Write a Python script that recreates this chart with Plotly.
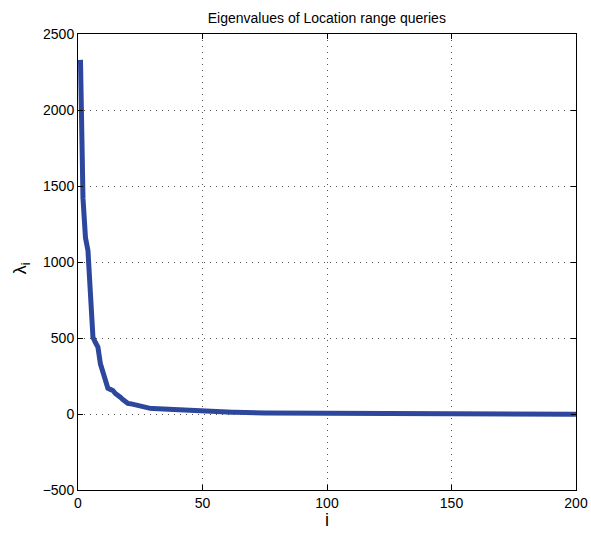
import plotly.graph_objects as go

# Eigenvalue index
idx = list(range(1, 201))

# Estimated eigenvalues lambda_i
lam_head = [2330, 1420, 1160, 1075, 790, 505, 470, 440, 330, 270,
            215, 170, 162, 155, 135, 125, 110, 95, 80, 70,
            68, 64, 56, 50, 46, 43, 41, 39, 37, 36,
            35, 34, 33, 32, 30, 29, 28, 27, 26, 25]
lam_mid = [24, 23, 22, 21, 20, 19, 18, 18, 17, 16,
           16, 15, 15, 14, 14, 13, 13, 12, 12, 12,
           11, 11, 11, 10, 10, 10, 9, 9, 9, 9,
           8, 8, 8, 8, 7, 7, 7, 7, 7, 6,
           6, 6, 6, 6, 5, 5, 5, 5, 5, 5,
           4, 4, 4, 4, 4, 4, 4, 3, 3, 3]
lam_tail = [3, 3, 3, 3, 3, 3, 2, 2, 2, 2,
            2, 2, 2, 2, 2, 2, 1, 1, 1, 1,
            1, 1, 1, 1, 1, 1, 1, 1, 1, 1,
            1, 1, 1, 1, 1, 1, 1, 1, 1, 1,
            1, 1, 1, 1, 1, 2, 2, 2, 2, 2,
            2, 2, 2, 2, 2, 2, 2, 2, 2, 2,
            2, 2, 2, 2, 2, 2, 2, 2, 2, 2,
            2, 2, 2, 2, 2, 2, 2, 2, 2, 2,
            2, 2, 1, 1, 1, 1, 1, 1, 1, 1,
            1, 1, 1, 0, 0, 0, 0, 0, -1, -2]
lam = lam_head + lam_mid + lam_tail

x_ticks = [0, 50, 100, 150, 200]
y_ticks = [-500, 0, 500, 1000, 1500, 2000, 2500]

FONT = "Liberation Sans, Arial, sans-serif"

fig = go.Figure()
fig.add_trace(go.Scatter(
    x=idx, y=lam, mode="lines",
    line=dict(color="#2C479C", width=5),
    showlegend=False, hoverinfo="skip",
))

axis_common = dict(
    showline=True, linecolor="black", linewidth=1, mirror="allticks",
    ticks="inside", ticklen=5, tickcolor="black",
    showgrid=True, gridcolor="#555555", griddash="1px,5px", gridwidth=1,
    zeroline=False, automargin=False, ticklabeloverflow="allow",
    tickfont=dict(family=FONT, size=14, color="black"),
)

fig.update_layout(
    width=591, height=533,
    paper_bgcolor="white", plot_bgcolor="white",
    margin=dict(l=78, r=15, t=34, b=43),
    title=dict(text="Eigenvalues of Location range queries",
               x=0.553, xanchor="center", y=0.966, yanchor="middle",
               font=dict(family=FONT, size=14, color="black")),
    xaxis=dict(range=[0, 200], tickvals=x_ticks, **axis_common),
    yaxis=dict(range=[-500, 2500], tickvals=y_ticks, **axis_common),
    annotations=[
        dict(text="i", xref="paper", yref="paper", x=0.5, y=-0.066,
             xanchor="center", yanchor="middle", showarrow=False,
             font=dict(family=FONT, size=18, color="black")),
        dict(text="λ<sub>i</sub>", xref="paper", yref="paper", x=-0.112, y=0.487,
             xanchor="center", yanchor="middle", showarrow=False, textangle=-90,
             font=dict(family=FONT, size=18, color="black")),
    ],
)

fig.write_html(
    "out.html",
    config={"displayModeBar": False},
    post_script="document.body.style.margin='0';document.body.style.overflow='hidden';",
)
